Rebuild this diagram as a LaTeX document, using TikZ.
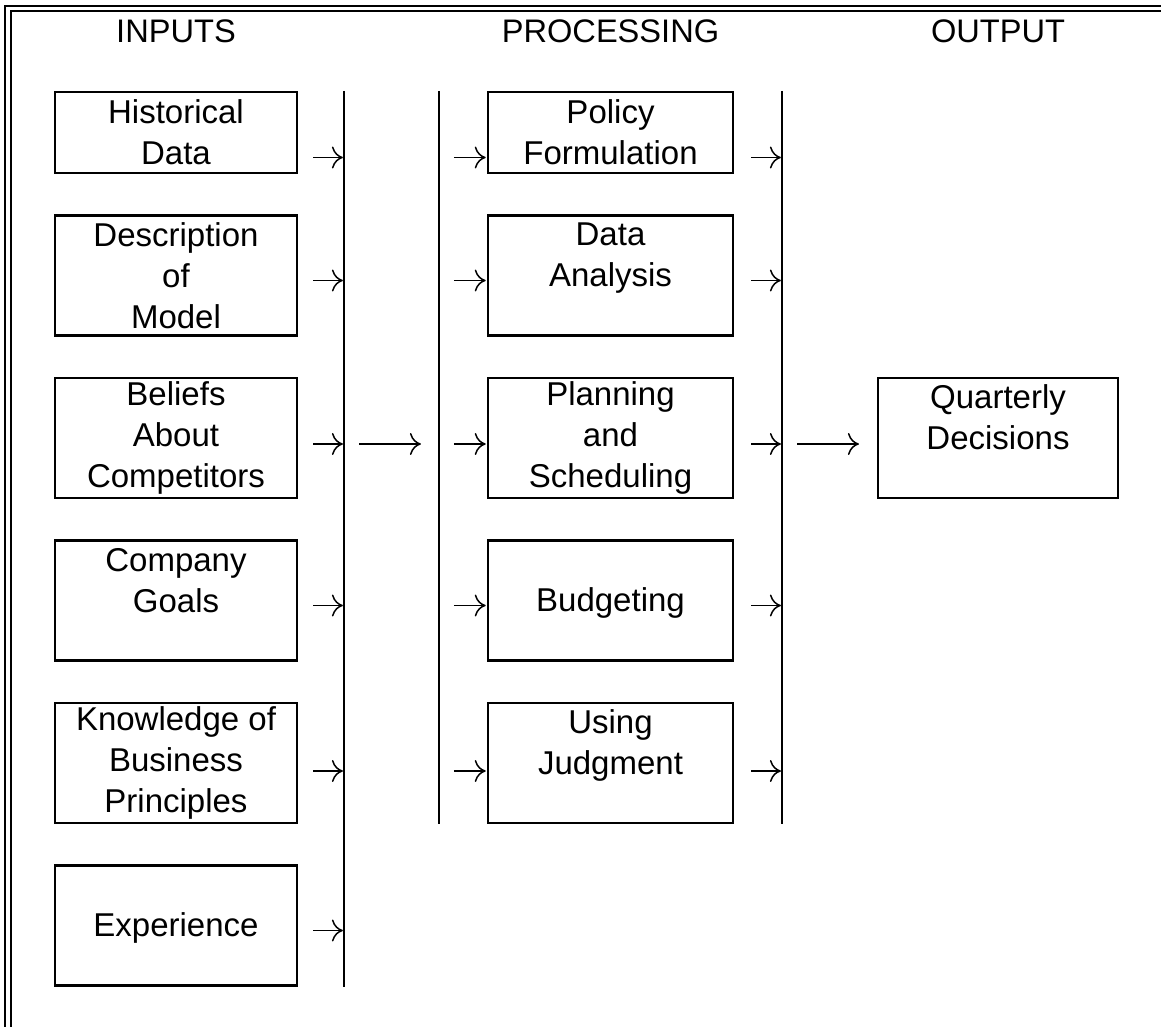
\documentclass[tikz,border=0pt]{standalone}
\usepackage{fontspec}
\setmainfont{Liberation Sans}
\usetikzlibrary{positioning,arrows.meta}

\begin{document}
\begin{tikzpicture}[>={To[length=5.5pt,width=11pt]},node distance=20.15pt,
		box/.style={draw,line width=1.1pt,minimum width=121pt,minimum height=60pt,inner ysep=1pt,align=center,font=\fontsize{16.5pt}{20.5pt}\selectfont},
		flat/.style={box,minimum height=40.5pt},
		wide/.style={minimum width=122.5pt},
		head/.style={anchor=base,font=\fontsize{16.3pt}{20.5pt}\selectfont},
		bar/.style={line width=1.1pt},
		arr/.style={->,line width=0.75pt}]
	\useasboundingbox (0,0) rectangle (580.5pt,-513.5pt);
	% double frame, left and top only
	\draw[line width=1pt] (2.5pt,-513.5pt) -- (2.5pt,-3pt) -- (580.5pt,-3pt);
	\draw[line width=1pt] (5.5pt,-513.5pt) -- (5.5pt,-5.5pt) -- (580.5pt,-5.5pt);

	\node[flat] (in1) at (88pt,-66.25pt) {Historical\\Data};
	\node[box] (in2) [below=of in1] {Description\\of\\Model};
	\node[box] (in3) [below=of in2] {Beliefs\\About\\Competitors};
	\node[box] (in4) [below=of in3] {Company\\Goals\\~};
	\node[box] (in5) [below=of in4] {Knowledge of\\Business\\Principles};
	\node[box] (in6) [below=of in5] {\vphantom{D}\\Experience\\~};

	\node[flat,wide] (pr1) [right=94.4pt of in1] {Policy\\Formulation};
	\node[box,wide] (pr2) [below=of pr1] {Data\\Analysis\\~};
	\node[box,wide] (pr3) [below=of pr2] {Planning\\and\\Scheduling};
	\node[box,wide] (pr4) [below=of pr3] {\vphantom{D}\\Budgeting\\~};
	\node[box,wide] (pr5) [below=of pr4] {Using\\Judgment\\~};

	\node[box,minimum width=120pt] (out) [right=71.4pt of pr3] {Quarterly\\Decisions\\~};

	\node[head] (hin) at (in1.north |- 0,-21.5pt) {INPUTS};
	\node[head] (hpr) at (pr1.north |- 0,-21.5pt) {PROCESSING};
	\node[head] (hout) at (out.north |- 0,-21.5pt) {OUTPUT};

	% collecting bars
	\coordinate (b1) at ([xshift=23pt]in1.north east);
	\coordinate (b2) at ([xshift=-24pt]pr1.north west);
	\coordinate (b3) at ([xshift=24pt]pr1.north east);
	\draw[bar] (b1) -- (b1 |- in6.south);
	\draw[bar] (b2) -- (b2 |- pr5.south);
	\draw[bar] (b3) -- (b3 |- pr5.south);

	\foreach \n/\dy in {1/12.5,2/2.5,3/3,4/2.5,5/4,6/2.5} {
		\coordinate (e\n) at (in\n.east -| b1);
		\draw[arr] ([xshift=7.5pt,yshift=-\dy pt]in\n.east) -- ([xshift=-0.6pt,yshift=-\dy pt]e\n);
	}
	\foreach \n/\dy in {1/12.5,2/2.5,3/3,4/2.5,5/4} {
		\coordinate (l\n) at (pr\n.west -| b2);
		\coordinate (r\n) at (pr\n.east -| b3);
		\draw[arr] ([xshift=7.5pt,yshift=-\dy pt]l\n) -- ([xshift=-0.6pt,yshift=-\dy pt]pr\n.west);
		\draw[arr] ([xshift=8.5pt,yshift=-\dy pt]pr\n.east) -- ([xshift=-0.6pt,yshift=-\dy pt]r\n);
	}
	\draw[arr] ([xshift=7.5pt,yshift=-3pt]e3) -- ([xshift=-9pt,yshift=-3pt]l3);
	\draw[arr] ([xshift=7.5pt,yshift=-3pt]r3) -- ([xshift=-9pt,yshift=-3pt]out.west);
\end{tikzpicture}
\end{document}
